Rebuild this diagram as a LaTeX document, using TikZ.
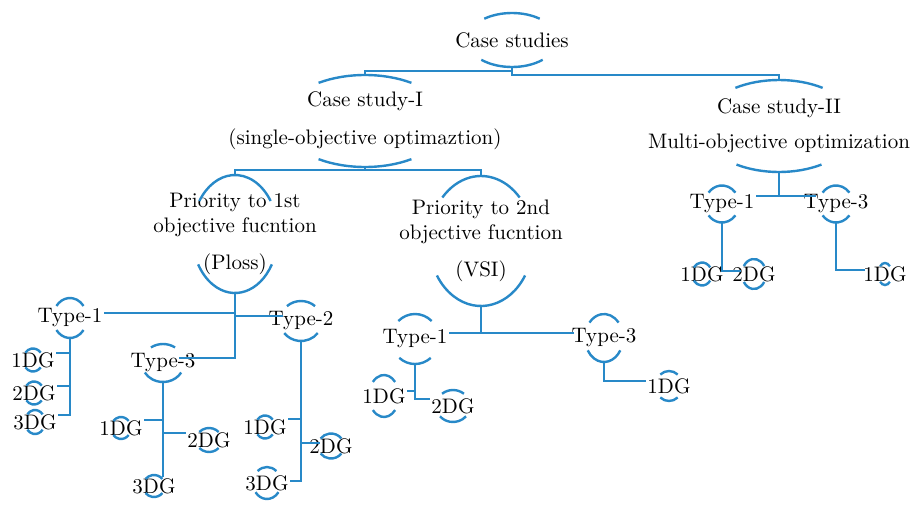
\documentclass[tikz,border=0pt]{standalone}
\usepackage{tikz}
\definecolor{capblue}{RGB}{40,137,200}
% arcs above and below a label: node, x radius, y radius, top cut, bottom cut
\newcommand{\ovalcaps}[5]{%
  \coordinate (#1-top) at ([shift={(0,#3)}]#1.center);
  \coordinate (#1-bot) at ([shift={(0,-#3)}]#1.center);
  \draw[capline] ([shift={(#4:#2 and #3)}]#1.center) arc (#4:180-#4:#2 and #3);
  \draw[capline] ([shift={(-#5:#2 and #3)}]#1.center) arc (-#5:-180+#5:#2 and #3);
}

\begin{document}
\begin{tikzpicture}[x=0.5pt,y=0.5pt,
    lbl/.style={inner sep=0.5pt,align=center,font=\fontsize{10.5}{12.5}\selectfont},
    link/.style={capblue,line width=1.2pt},
    capline/.style={capblue,line width=1.2pt}]
	\useasboundingbox (0,0) rectangle (910,-504);
	% top levels
	\node[lbl] (cs) at (512,-40) {Case studies};
	\node[lbl] (csI) at (365,-121) {Case study-I\\[6.5pt](single-objective optimaztion)};
	\node[lbl] (csII) at (779,-126) {Case study-II\\[5pt]Multi-objective optimization};
	\node[lbl] (pri1) at (235,-234) {Priority to 1st\\objective fucntion\\[6pt](Ploss)};
	\node[lbl] (pri2) at (481,-241) {Priority to 2nd\\objective fucntion\\[6pt](VSI)};
	% types
	\node[lbl] (t1a) at (70,-318) {Type-1};
	\node[lbl] (t3a) at (163,-363) {Type-3};
	\node[lbl] (t2a) at (301,-321) {Type-2};
	\node[lbl] (t1b) at (415,-339) {Type-1};
	\node[lbl] (t3b) at (604,-338) {Type-3};
	\node[lbl] (t1c) at (722,-204) {Type-1};
	\node[lbl] (t3c) at (836,-204) {Type-3};
	% DG leaves
	\node[lbl] (d1a) at (33,-360) {1DG};
	\node[lbl] (d2a) at (34,-393) {2DG};
	\node[lbl] (d3a) at (35,-422) {3DG};
	\node[lbl] (d1b) at (121,-428) {1DG};
	\node[lbl] (d2b) at (209,-440) {2DG};
	\node[lbl] (d3b) at (154,-486) {3DG};
	\node[lbl] (d1c) at (265,-427) {1DG};
	\node[lbl] (d2c) at (331,-446) {2DG};
	\node[lbl] (d3c) at (267,-483) {3DG};
	\node[lbl] (d1d) at (384,-396) {1DG};
	\node[lbl] (d2d) at (453,-406) {2DG};
	\node[lbl] (d1e) at (669,-386) {1DG};
	\node[lbl] (d1f) at (702,-274) {1DG};
	\node[lbl] (d2f) at (754,-274) {2DG};
	\node[lbl] (d1g) at (885,-274) {1DG};

	\ovalcaps{cs}{45}{27}{52}{47}
	\ovalcaps{csI}{83}{46}{56}{56}
	\ovalcaps{csII}{78}{46}{56}{57}
	\ovalcaps{pri1}{43}{59}{34}{31}
	\ovalcaps{pri2}{52}{65}{42}{32}
	\ovalcaps{t1a}{17}{20}{37}{37}
	\ovalcaps{t3a}{21}{19}{55}{30}
	\ovalcaps{t2a}{21}{20}{48}{37}
	\ovalcaps{t1b}{24}{25}{46}{49}
	\ovalcaps{t3b}{19}{24}{40}{31}
	\ovalcaps{t1c}{17}{18.5}{38}{38}
	\ovalcaps{t3c}{17}{18.5}{38}{38}
	\ovalcaps{d1a}{10}{11.5}{40}{40}
	\ovalcaps{d2a}{10}{11.5}{40}{40}
	\ovalcaps{d3a}{10}{12}{40}{40}
	\ovalcaps{d1b}{10}{11}{40}{40}
	\ovalcaps{d2b}{13}{12}{42}{42}
	\ovalcaps{d3b}{11}{11}{40}{40}
	\ovalcaps{d1c}{10}{11.5}{40}{40}
	\ovalcaps{d2c}{13}{12.5}{37}{37}
	\ovalcaps{d3c}{14}{16}{48}{35}
	\ovalcaps{d1d}{15}{21}{42}{42}
	\ovalcaps{d2d}{17}{16}{50}{40}
	\ovalcaps{d1e}{13.5}{15}{50}{50}
	\ovalcaps{d1f}{10}{11.5}{35}{35}
	\ovalcaps{d2f}{12}{15}{32}{32}
	\ovalcaps{d1g}{7}{11}{45}{45}

	% links
	\draw[link] (cs-bot) -- ++(0,-4) -| (csI-top);
	\draw[link] (cs-bot) -- ++(0,-8) -| (csII-top);
	\draw[link] (csI-bot) -- ++(0,-3) -| (pri1-top);
	\draw[link] (csI-bot) -- ++(0,-3) -| (pri2-top);
	\draw[link] (pri1-bot) |- ([yshift=2.5pt]t1a.east);
	\draw[link] (pri1-bot) |- ([xshift=8pt,yshift=2.5pt]t2a.west);
	\draw[link] (pri1-bot) |- ([xshift=-9pt,yshift=2.5pt]t3a.east);
	\draw[link] (pri2-bot) |- ([yshift=3pt]t1b.east);
	\draw[link] (pri2-bot) |- ([xshift=2pt,yshift=2.5pt]t3b.west);
	\draw[link] (csII-bot) |- ([yshift=4pt]t1c.east);
	\draw[link] (csII-bot) |- ([xshift=7pt,yshift=4pt]t3c.west);
	\draw[link] (t1a-bot) |- ([yshift=3.5pt]d1a.east);
	\draw[link] (t1a-bot) |- ([yshift=3.5pt]d2a.east);
	\draw[link] (t1a-bot) |- ([yshift=3.5pt]d3a.east);
	\draw[link] (t3a-bot) |- ([yshift=4pt]d1b.east);
	\draw[link] (t3a-bot) |- ([yshift=3.5pt]d2b.west);
	\draw[link] (t3a-bot) -- (t3a-bot |- d3b.north);
	\draw[link] (t2a-bot) |- ([yshift=4pt]d1c.east);
	\draw[link] (t2a-bot) |- ([xshift=6pt,yshift=1.5pt]d2c.west);
	\draw[link] (t2a-bot) |- ([yshift=1pt]d3c.east);
	\draw[link] (t1b-bot) |- ([yshift=2.5pt]d1d.east);
	\draw[link] (t1b-bot) |- ([yshift=3.5pt]d2d.west);
	\draw[link] (t3b-bot) |- ([yshift=2.5pt]d1e.west);
	\draw[link] (t1c-bot) |- ([xshift=5pt,yshift=1.5pt]d2f.west);
	\draw[link] (t3c-bot) |- ([xshift=1.5pt,yshift=2pt]d1g.west);
\end{tikzpicture}
\end{document}
